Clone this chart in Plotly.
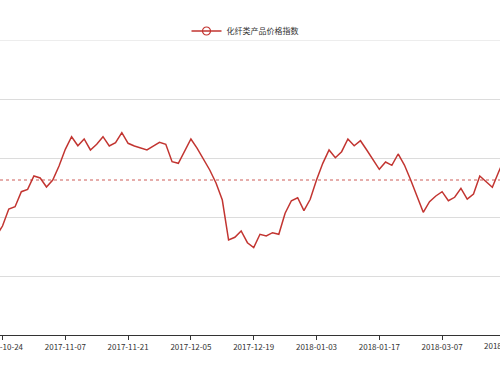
import plotly.graph_objects as go

# ---- data ----
series_name = "化纤类产品价格指数"
point_index = list(range(-2, 80))
index_values = [
    96.78, 98.47,
    101.36, 101.75, 104.29, 104.69, 106.95, 106.61, 105.08, 106.27, 108.64, 111.47,
    113.61, 112.08, 113.22, 111.36, 112.32, 113.61, 112.03, 112.59, 114.29, 112.49,
    112.03, 111.69, 111.36, 112.03, 112.66, 112.32, 109.37, 109.10, 111.19, 113.22,
    111.64, 109.92, 107.97, 105.76, 102.88, 96.10, 96.56, 97.63, 95.64, 94.80,
    97.07, 96.78, 97.34, 97.07, 100.63, 102.76, 103.27, 101.07, 103.00, 106.27,
    109.10, 111.36, 110.05, 111.07, 113.22, 112.08, 112.93, 111.36, 109.66, 108.08,
    109.32, 108.76, 110.68, 108.81, 106.27, 103.39, 100.80, 102.59, 103.56, 104.29,
    102.76, 103.34, 104.86, 103.05, 103.90, 106.95, 105.98, 105.03, 107.63, 110.00,
]
average_value = 106.27
tick_labels = ["2017-10-24", "2017-11-07", "2017-11-21", "2017-12-05", "2017-12-19",
               "2018-01-03", "2018-01-17", "2018-03-07", "2018-03-21"]
first_label_index = -1
label_step = 10

# ---- layout constants ----
X_MIN, X_MAX = -1.40, 78.22
Y_MIN, Y_MAX, Y_STEP = 80, 130, 10
RED = "#c23531"
FONT = "Noto Sans CJK SC, Microsoft YaHei, sans-serif"

tick_positions = [first_label_index + label_step * i for i in range(len(tick_labels))]
in_range = [(p, t) for p, t in zip(tick_positions, tick_labels) if X_MIN <= p <= X_MAX]
out_range = [(p, t) for p, t in zip(tick_positions, tick_labels) if not (X_MIN <= p <= X_MAX)]

fig = go.Figure()
fig.add_trace(go.Scatter(
    x=point_index, y=index_values, mode="lines", name=series_name,
    line=dict(color=RED, width=1.5),
    showlegend=False, hoverinfo="x+y",
))
# legend entry (visible marker)
fig.add_trace(go.Scatter(
    x=[None], y=[None], mode="lines+markers", name=series_name,
    line=dict(color=RED, width=1.4),
    marker=dict(symbol="circle-open", size=8, color=RED, line=dict(width=1.2)),
))

fig.add_shape(type="line", xref="paper", yref="y", x0=0, x1=1,
              y0=average_value, y1=average_value,
              line=dict(color=RED, width=1, dash="3px,3px"), opacity=0.8)
# top grid line (Plotly omits the gridline sitting on the plot edge)
fig.add_shape(type="line", xref="paper", yref="y", x0=0, x1=1, y0=Y_MAX, y1=Y_MAX,
              line=dict(color="#dcdcdc", width=1), layer="below")

for p, t in out_range:
    fig.add_annotation(x=(p - X_MIN) / (X_MAX - X_MIN), xref="paper", y=0, yref="paper",
                       text=t, showarrow=False, yanchor="middle", xanchor="center",
                       yshift=-10, font=dict(size=8, color="#333", family=FONT))

fig.update_layout(
    width=500, height=375,
    margin=dict(l=0, r=0, t=40, b=40, pad=0, autoexpand=False),
    paper_bgcolor="white", plot_bgcolor="white",
    font=dict(family=FONT, size=8, color="#333"),
    legend=dict(orientation="h", x=0.49, xanchor="center", xref="container",
                y=1 - 31 / 375, yanchor="middle", yref="container",
                font=dict(size=8, color="#333"), itemwidth=30, bgcolor="rgba(0,0,0,0)"),
    xaxis=dict(range=[X_MIN, X_MAX], tickmode="array", automargin=False,
               ticklabeloverflow="allow",
               tickvals=[p for p, _ in in_range], ticktext=[t for _, t in in_range],
               showgrid=False, zeroline=False, showline=True, linecolor="#333", linewidth=1,
               ticks="outside", ticklen=4, tickcolor="#333",
               tickfont=dict(size=8, color="#333", family=FONT)),
    yaxis=dict(range=[Y_MIN, Y_MAX], dtick=Y_STEP, showticklabels=False, automargin=False,
               showgrid=True, gridcolor="#dcdcdc", gridwidth=1, zeroline=False, showline=False),
)

fig.write_html("out.html", config={"displayModeBar": False},
               post_script="document.body.style.margin='0';document.body.style.overflow='hidden';")
